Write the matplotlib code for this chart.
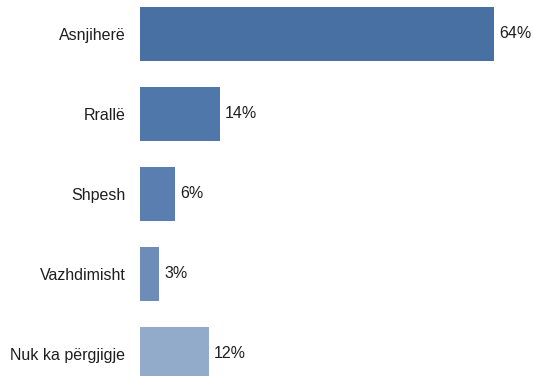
import matplotlib
matplotlib.use("Agg")
import matplotlib.pyplot as plt

categories = ["Asnjiherë", "Rrallë", "Shpesh", "Vazhdimisht", "Nuk ka përgjigje"]
values = [64.0, 14.4, 6.3, 3.4, 12.4]
value_labels = ["64%", "14%", "6%", "3%", "12%"]
colors = ["#4870A3", "#5077AA", "#5A7EB0", "#6D8CB8", "#92ABCB"]

plt.rcParams["font.family"] = ["Liberation Sans", "DejaVu Sans"]

W, H = 533, 376
fig = plt.figure(figsize=(W / 100, H / 100), dpi=100)
ax = fig.add_axes([140 / W, 0, (W - 140) / W, 1])

ypos = list(range(len(categories)))
ax.barh(ypos, values, height=54 / 80, color=colors, edgecolor="none")
for y, v, lab in zip(ypos, values, value_labels):
    ax.annotate(lab, (v, y), xytext=(4, 0), textcoords="offset points",
                ha="left", va="center", fontsize=11.5, color="#1e1e1e")

ax.set_xlim(0, (W - 140) / 5.53)
ax.set_ylim((H - 34) / 80, -34 / 80)
ax.set_yticks(ypos)
ax.set_yticklabels(categories, fontsize=11.5, color="#1e1e1e")
ax.tick_params(axis="y", length=0, pad=10.5)
ax.set_xticks([])
for s in ax.spines.values():
    s.set_visible(False)

fig.savefig("out.png", dpi=100)
